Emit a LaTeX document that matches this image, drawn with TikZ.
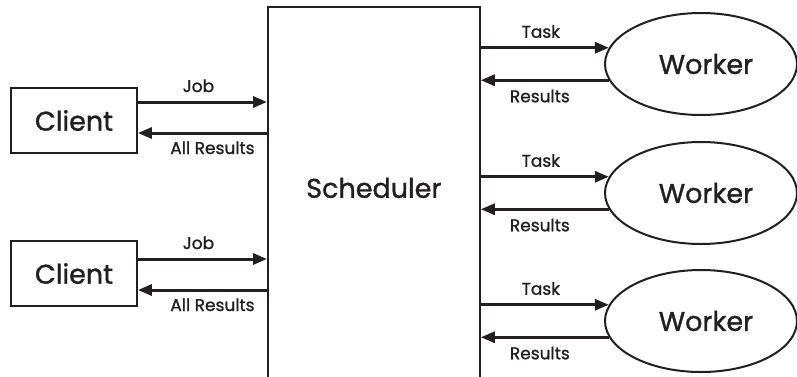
\documentclass[tikz,border=0pt]{standalone}
\usepackage{fontspec}
\setmainfont{Poppins}[UprightFeatures={FakeBold=1.2}]
\usetikzlibrary{arrows.meta,shapes.geometric,calc}
\definecolor{ink}{HTML}{231F20}
\newcommand\BigLbl{\fontsize{27}{32}\selectfont}
\newcommand\SmallLbl{\fontsize{17}{20}\selectfont}
\begin{document}
\begin{tikzpicture}[x=1pt,y=-1pt,
  every node/.style={text=ink},
  rectbox/.style={draw=ink, line width=1.8pt, inner sep=0pt, font=\BigLbl},
  worker/.style={ellipse, draw=ink, line width=2pt, minimum width=192pt, minimum height=102pt, inner sep=0pt},
  arr/.style={draw=ink, line width=3pt, -{Triangle[length=14pt,width=11pt]}},
  lab/.style={font=\SmallLbl, inner sep=0pt, anchor=base},
]
\useasboundingbox (0,0) rectangle (797,376);
\clip (0,0) rectangle (797,376);
% scheduler
\node[rectbox, minimum width=212pt, minimum height=374pt, anchor=north west,
      label={[font=\BigLbl, text=ink, yshift=6pt]center:Scheduler}] (s) at (267,6) {};
% clients
\node[rectbox, minimum width=126pt, minimum height=65pt] (c1) at (74,120.5) {Client};
\node[rectbox, minimum width=126pt, minimum height=65pt] (c2) at (74,273.5) {Client};
% workers
\node[worker, label={[font=\BigLbl, text=ink, xshift=5pt]center:Worker}] (w1) at (701,64) {};
\node[worker, label={[font=\BigLbl, text=ink, xshift=5pt]center:Worker}] (w2) at (701,193) {};
\node[worker, label={[font=\BigLbl, text=ink, xshift=5pt]center:Worker}] (w3) at (701,321) {};
% client connectors
\coordinate (j1) at ([yshift=18.5pt]c1.east);
\coordinate (r1) at ([yshift=-12.5pt]c1.east);
\coordinate (j2) at ([yshift=14.5pt]c2.east);
\coordinate (r2) at ([yshift=-16.5pt]c2.east);
\draw[arr] (j1) -- (j1 -| s.west) node[lab, midway, xshift=-4pt, yshift=10pt] {Job};
\draw[arr] (r1 -| s.west) -- (r1) node[lab, midway, xshift=10pt, yshift=-21pt] {All Results};
\draw[arr] (j2) -- (j2 -| s.west) node[lab, midway, xshift=-4pt, yshift=10pt] {Job};
\draw[arr] (r2 -| s.west) -- (r2) node[lab, midway, xshift=10pt, yshift=-21pt] {All Results};
% worker connectors
\foreach \w in {w1,w2,w3}{
  \draw[arr] (s.east |- \w.170) -- (\w.170) node[lab, midway, xshift=-4pt, yshift=10pt] {Task};
  \draw[arr] (\w.190) -- (s.east |- \w.190) node[lab, midway, xshift=-5pt, yshift=-22pt] {Results};
}
\end{tikzpicture}
\end{document}
